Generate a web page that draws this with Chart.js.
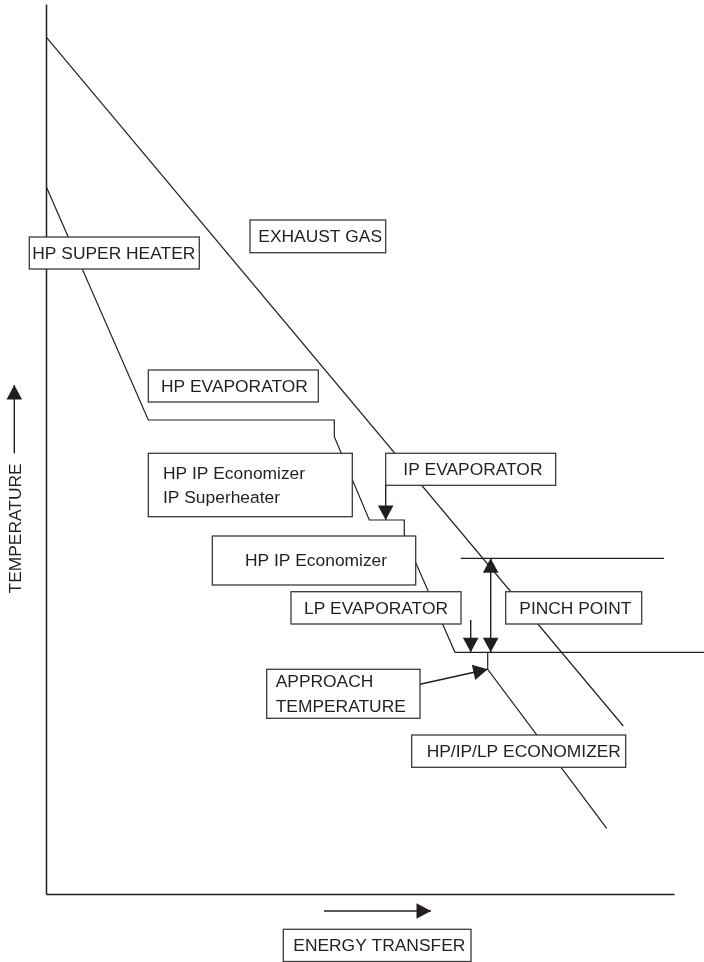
<!DOCTYPE html>
<html>
<head>
<meta charset="utf-8">
<script src="https://cdn.jsdelivr.net/npm/chart.js@4.4.1/dist/chart.umd.min.js"></script>
<style>
  html, body { margin: 0; padding: 0; background: #fff; }
  #wrap { width: 704px; height: 962px; position: relative; }
</style>
</head>
<body>
<div id="wrap"><canvas id="chart"></canvas></div>
<script>
// axis extents (energy transfer → x, temperature → y), arbitrary units
const energyMax = 628;
const tempMax = 890;

// gas and water/steam profiles
const exhaustGas = [{ x: 0.2, y: 856.8 }, { x: 576.8, y: 168.5 }];
const steamWater = [
  { x: 0.2, y: 706.8 },
  { x: 101.8, y: 474.5 },
  { x: 287.8, y: 474.5 },
  { x: 287.8, y: 457.8 },
  { x: 322.8, y: 374.5 },
  { x: 357.8, y: 374.5 },
  { x: 357.8, y: 357.8 },
  { x: 408.5, y: 242.2 },
  { x: 657.5, y: 242.2 },
];
const economizer = [{ x: 441.2, y: 242.2 }, { x: 441.2, y: 225.2 }, { x: 560.2, y: 66.2 }];
const pinchRef = [{ x: 414.2, y: 336.2 }, { x: 617.5, y: 336.2 }];
const yAxisLine = [{ x: 0, y: 0 }, { x: 0, y: tempMax }];
const xAxisLine = [{ x: 0, y: 0 }, { x: energyMax, y: 0 }];

// label texts
const boxTexts = [
  ["HP SUPER HEATER"],
  ["EXHAUST GAS"],
  ["HP EVAPORATOR"],
  ["HP IP Economizer", "IP Superheater"],
  ["IP EVAPORATOR"],
  ["HP IP Economizer"],
  ["LP EVAPORATOR"],
  ["PINCH POINT"],
  ["APPROACH", "TEMPERATURE"],
  ["HP/IP/LP ECONOMIZER"],
  ["ENERGY TRANSFER"],
];
const yTitle = "TEMPERATURE";

// label box layout in data units: [x1, yTop, x2, yBottom, textX]
const boxLayout = [
  [-17.2, 657.5, 152.8, 625.5, -14.2],
  [203.5, 674.5, 339.2, 641.8, 211.8],
  [101.8, 524.5, 271.8, 492.5, 114.5],
  [101.8, 441.2, 305.8, 377.8, 116.5],
  [339.2, 441.2, 509.2, 409.2, 356.8],
  [165.8, 358.5, 369.2, 309.5, 198.5],
  [244.5, 302.8, 414.5, 270.5, 257.5],
  [459.2, 302.8, 595.2, 270.5, 472.8],
  [220.2, 225.2, 373.5, 176.2, 229.2],
  [365.2, 159.5, 579.2, 127.2, 380.2],
  [236.8, -34.8, 424.5, -67.0, 246.8],
];

// arrows in data units: [x1, y1, x2, y2, double]
const arrows = [
  [-32.2, 441.2, -32.2, 509.5, false],
  [277.5, -16.5, 384.5, -16.5, false],
  [339.2, 409.5, 339.2, 374.5, false],
  [444.2, 336.2, 444.2, 242.2, true],
  [424.2, 274.5, 424.2, 242.2, false],
  [373.5, 210.2, 441.2, 225.2, false],
];

const INK = "#231f20";
const FONT = '17.4px "Liberation Sans", Arial, Helvetica, sans-serif';

function line(data, width) {
  return {
    data,
    showLine: true,
    borderColor: INK,
    borderWidth: width || 1.2,
    pointRadius: 0,
    pointHoverRadius: 0,
    tension: 0,
    fill: false,
    clip: false,
  };
}

function drawHead(ctx, x1, y1, x2, y2, len, half) {
  const a = Math.atan2(y2 - y1, x2 - x1);
  const bx = x2 - Math.cos(a) * len, by = y2 - Math.sin(a) * len;
  ctx.beginPath();
  ctx.moveTo(x2, y2);
  ctx.lineTo(bx + Math.sin(a) * half, by - Math.cos(a) * half);
  ctx.lineTo(bx - Math.sin(a) * half, by + Math.cos(a) * half);
  ctx.closePath();
  ctx.fill();
}

const diagramPlugin = {
  id: "diagram",
  afterDatasetsDraw(chart) {
    const { ctx, scales: { x, y } } = chart;
    const px = v => x.getPixelForValue(v);
    const py = v => y.getPixelForValue(v);
    ctx.save();
    ctx.font = FONT;
    ctx.textBaseline = "middle";
    ctx.textAlign = "left";

    boxTexts.forEach((lines, i) => {
      const [x1, yt, x2, yb, tx] = boxLayout[i];
      const l = px(x1), t = py(yt), r = px(x2), b = py(yb);
      ctx.fillStyle = "#fff";
      ctx.fillRect(l, t, r - l, b - t);
      ctx.strokeStyle = "#3a3a3a";
      ctx.lineWidth = 1.3;
      ctx.strokeRect(l, t, r - l, b - t);
      ctx.fillStyle = INK;
      const cy = (t + b) / 2;
      const gap = 24.5;
      lines.forEach((s, k) => {
        ctx.fillText(s, px(tx), cy + (k - (lines.length - 1) / 2) * gap + 1);
      });
    });

    ctx.strokeStyle = INK;
    ctx.fillStyle = INK;
    ctx.lineWidth = 1.4;
    arrows.forEach(([ax1, ay1, ax2, ay2, dbl]) => {
      const x1 = px(ax1), y1 = py(ay1), x2 = px(ax2), y2 = py(ay2);
      ctx.beginPath();
      ctx.moveTo(x1, y1);
      ctx.lineTo(x2, y2);
      ctx.stroke();
      drawHead(ctx, x1, y1, x2, y2, 14.5, 7.8);
      if (dbl) drawHead(ctx, x2, y2, x1, y1, 14.5, 7.8);
    });

    // rotated axis title
    ctx.save();
    ctx.translate(px(-30.8), py(366.1));
    ctx.rotate(-Math.PI / 2);
    ctx.textAlign = "center";
    ctx.fillText(yTitle, 0, 1);
    ctx.restore();

    ctx.restore();
  },
};

new Chart(document.getElementById("chart"), {
  type: "scatter",
  data: {
    datasets: [
      line(yAxisLine, 1.5),
      line(xAxisLine, 1.5),
      line(exhaustGas),
      line(steamWater),
      line(economizer),
      line(pinchRef),
    ],
  },
  options: {
    responsive: true,
    maintainAspectRatio: false,
    animation: false,
    events: [],
    layout: { padding: { left: 46.5, top: 4.5, right: 29.5, bottom: 67.5 } },
    plugins: { legend: { display: false }, tooltip: { enabled: false } },
    scales: {
      x: { type: "linear", display: false, min: 0, max: energyMax },
      y: { type: "linear", display: false, min: 0, max: tempMax },
    },
  },
  plugins: [diagramPlugin],
});
</script>
</body>
</html>
